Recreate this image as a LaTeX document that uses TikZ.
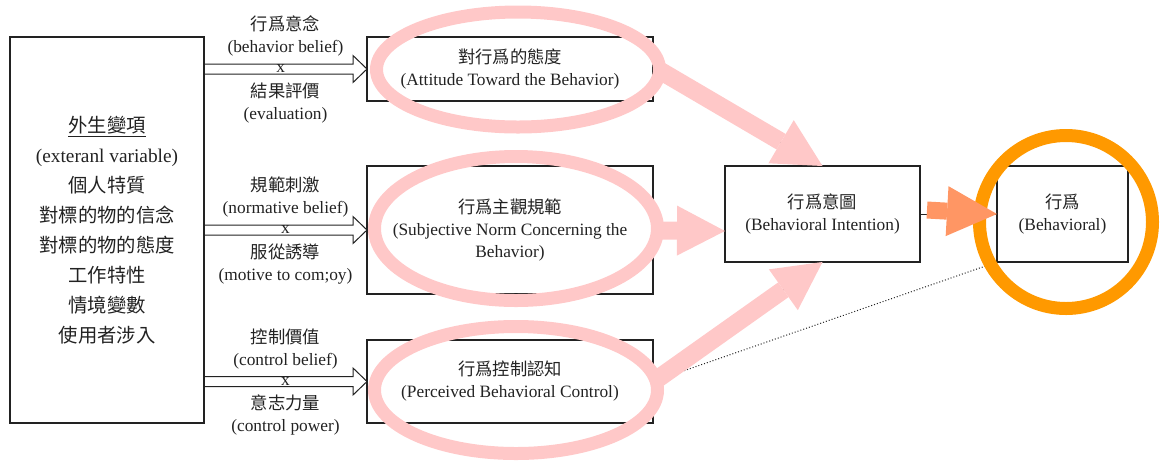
\documentclass[tikz,border=0pt]{standalone}
\usepackage{fontspec}
\setmainfont{Liberation Serif}
\newfontfamily\cjk{Noto Sans CJK TC}
\usetikzlibrary{arrows.meta,shapes.geometric,calc}
\definecolor{pinkc}{RGB}{255,200,200}
\definecolor{orangec}{RGB}{255,153,0}
\definecolor{salmonc}{RGB}{255,150,100}
\definecolor{inkc}{RGB}{34,34,34}
\newcommand{\hollowarr}[2]{%
  \draw[hollow] ($(#1)+(0,-5)$) -- ($(#2)+(-14,-5)$) -- ($(#2)+(-14,-13.5)$) -- (#2)
    -- ($(#2)+(-14,13.5)$) -- ($(#2)+(-14,5)$) -- ($(#1)+(0,5)$);}
\begin{document}
\begin{tikzpicture}[x=0.75pt,y=-0.75pt,
  box/.style={draw=inkc,line width=0.8pt,inner sep=0pt,outer sep=0pt,align=center,
    font=\fontsize{13}{16.5}\selectfont,text=inkc},
  lbl/.style={align=center,font=\fontsize{13}{16.5}\selectfont,text=inkc,inner sep=0pt},
  ring/.style={ellipse,draw=pinkc,line width=9.75pt,inner sep=0pt},
  fatpink/.style={draw=pinkc,line width=13.5pt,-{Triangle[length=36pt,width=37.5pt,line width=0pt]}},
  hollow/.style={draw=inkc,line width=0.75pt,line join=miter},
  thinblk/.style={draw=inkc,line width=0.75pt}
]
\useasboundingbox (0,0) rectangle (1160,462);

% boxes
\node[box,minimum width=145.5pt,minimum height=289.5pt,font=\fontsize{14.5}{22.5}\selectfont] (L) at (107,230)
  {{\cjk\underline{外生變項}}\\(exteranl variable)\\{\cjk 個人特質}\\{\cjk 對標的物的信念}\\{\cjk 對標的物的態度}\\{\cjk 工作特性}\\{\cjk 情境變數}\\{\cjk 使用者涉入}};
\node[box,minimum width=214.5pt,minimum height=48pt] (B1) at (510,69)
  {{\cjk 對行爲的態度}\\(Attitude Toward the Behavior)};
\node[box,minimum width=214.5pt,minimum height=96pt] (B2) at (510,230)
  {{\cjk 行爲主觀規範}\\(Subjective Norm Concerning the\\Behavior)};
\node[box,minimum width=214.5pt,minimum height=62.25pt] (B3) at (510,381.5)
  {{\cjk 行爲控制認知}\\(Perceived Behavioral Control)};
\node[box,minimum width=146.25pt,minimum height=72pt] (B4) at (822.5,214)
  {{\cjk 行爲意圖}\\(Behavioral Intention)};
\node[box,minimum width=98.25pt,minimum height=72pt] (B5) at (1062.5,214)
  {{\cjk 行爲}\\(Behavioral)};

% hollow arrows
\coordinate (a1s) at (L.east |- B1.west); \coordinate (a1e) at (B1.west);
\coordinate (a2s) at (L.east |- B2.west); \coordinate (a2e) at (B2.west);
\coordinate (a3s) at (L.east |- B3.west); \coordinate (a3e) at (B3.west);
\hollowarr{a1s}{a1e}
\hollowarr{a2s}{a2e}
\hollowarr{a3s}{a3e}

\node[lbl] (x1) at ($(a1s)!0.47!(a1e)$) {x};
\node[lbl] (x2) at ($(a2s)!0.5!(a2e)$) {x};
\node[lbl] (x3) at ($(a3s)!0.5!(a3e)$) {x};

\node[lbl] (t1a) at ($(a1s)!0.5!(a1e)+(0,-33)$) {{\cjk 行爲意念}\\(behavior belief)};
\node[lbl] (t1b) at ($(a1s)!0.5!(a1e)+(0,34)$) {{\cjk 結果評價}\\(evaluation)};
\node[lbl] (t2a) at ($(a2s)!0.5!(a2e)+(0,-33)$) {{\cjk 規範刺激}\\(normative belief)};
\node[lbl] (t2b) at ($(a2s)!0.5!(a2e)+(0,34)$) {{\cjk 服從誘導}\\(motive to com;oy)};
\node[lbl] (t3a) at ($(a3s)!0.5!(a3e)+(0,-32)$) {{\cjk 控制價值}\\(control belief)};
\node[lbl] (t3b) at ($(a3s)!0.5!(a3e)+(0,33)$) {{\cjk 意志力量}\\(control power)};

% underlying black connectors
\draw[thinblk] (B1.east) -- (B4.north);
\draw[thinblk] (B2.east) -- ($(B4.west)+(0,17)$);
\draw[thinblk] (B3.east) -- (B4.south);
\draw[thinblk] (B4.east) -- (B5.west);
\draw[inkc,line width=0.75pt,dash pattern=on 0.75pt off 1.5pt] (B3.east) -- (B5.south west);

% pink highlight ellipses
\node[ring,minimum width=212.25pt,minimum height=86.25pt] (E1) at (518,69.5) {};
\node[ring,minimum width=212.25pt,minimum height=108pt] (E2) at (516,228.5) {};
\node[ring,minimum width=212.25pt,minimum height=95.25pt] (E3) at (516,390) {};

% pink arrows
\draw[fatpink] ($(E1.east)+(-8,0)$) -- (B4.north);
\draw[fatpink] ($(E2.east)+(-6,2)$) -- ($(B4.west)+(0,17)$);
\draw[fatpink] ($(E3.east)+(-8,-10)$) -- (B4.south);

% orange circle and arrow
\node[circle,draw=orangec,line width=9.75pt,inner sep=0pt,minimum size=129.75pt] (O) at (1066,222) {};
\draw[draw=salmonc,line width=12.75pt,-{Triangle[length=37.5pt,width=37.5pt,line width=0pt]}]
  ($(B4.east)+(7,-4)$) -- (B5.west);
\end{tikzpicture}
\end{document}
